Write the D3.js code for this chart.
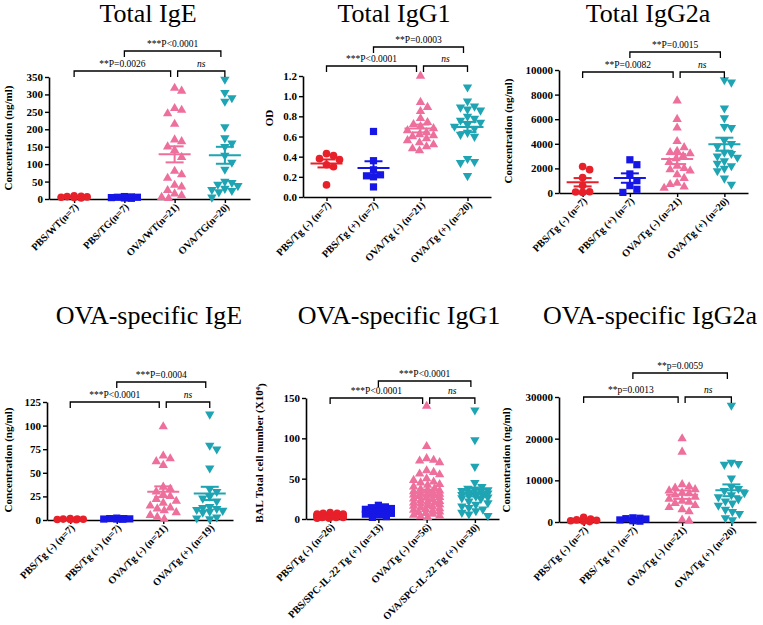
<!DOCTYPE html>
<html><head><meta charset="utf-8">
<script src="https://cdn.jsdelivr.net/npm/d3@7"></script>
<style>
body{margin:0;background:#fff}
svg{display:block}
svg text{font-family:"Liberation Serif","Times New Roman",Times,serif}
</style>
</head><body>
<svg id="chart" width="763" height="625"></svg>
<script>
// ---------- shared ----------
const groupColors = ["#e8202a", "#1616e6", "#ee6f9c", "#1ea4b2"];
const groupShapes = ["circle", "square", "triUp", "triDown"];
const SERIF = "'Liberation Serif','Times New Roman',Times,serif";

// ---------- Panel 1: Total IgE ----------
const totalIgE_categories = ["PBS/WT(n=7)", "PBS/TG(n=7)", "OVA/WT(n=21)", "OVA/TG(n=20)"];
const totalIgE_pbsWT = [9, 6, 4, 7, 3, 8, 5];
const totalIgE_pbsTG = [6, 3, 4, 7, 2, 5, 5];
const totalIgE_ovaWT = [318, 310, 260, 255, 245, 215, 170, 165, 150, 140, 120, 80, 70, 60, 40, 35, 25, 15, 10, 5, 2];
const totalIgE_ovaTG = [343, 305, 290, 280, 207, 175, 160, 150, 125, 105, 85, 50, 47, 42, 38, 30, 27, 24, 20, 5];
const totalIgE_ticks = [0, 50, 100, 150, 200, 250, 300, 350];
const totalIgE_comparisons = [[0, 2, "**P=0.0026"], [2, 3, "ns"], [1, 3, "***P<0.0001"]];

// ---------- Panel 2: Total IgG1 ----------
const totalIgG1_categories = ["PBS/Tg (-) (n=7)", "PBS/Tg (+) (n=7)", "OVA/Tg (-) (n=21)", "OVA/Tg (+) (n=20)"];
const totalIgG1_pbsNeg = [0.43, 0.41, 0.38, 0.37, 0.32, 0.30, 0.12];
const totalIgG1_pbsPos = [0.65, 0.36, 0.27, 0.22, 0.21, 0.20, 0.10];
const totalIgG1_ovaNeg = [1.2, 0.94, 0.89, 0.85, 0.78, 0.74, 0.72, 0.70, 0.68, 0.66, 0.64, 0.62, 0.61, 0.60, 0.58, 0.56, 0.54, 0.52, 0.50, 0.48, 0.46];
const totalIgG1_ovaPos = [1.09, 0.95, 0.90, 0.89, 0.87, 0.86, 0.80, 0.78, 0.76, 0.74, 0.72, 0.70, 0.68, 0.64, 0.62, 0.60, 0.38, 0.35, 0.34, 0.21];
const totalIgG1_ticks = [0, 0.2, 0.4, 0.6, 0.8, 1.0, 1.2];
const totalIgG1_comparisons = [[0, 2, "***P<0.0001"], [2, 3, "ns"], [1, 3, "**P=0.0003"]];

// ---------- Panel 3: Total IgG2a ----------
const totalIgG2a_categories = ["PBS/Tg (-) (n=7)", "PBS/Tg (+) (n=7)", "OVA/Tg (-) (n=21)", "OVA/Tg (+) (n=20)"];
const totalIgG2a_pbsNeg = [2150, 1900, 1250, 600, 100, 50, 80];
const totalIgG2a_pbsPos = [2700, 2300, 1550, 1000, 600, 300, 50];
const totalIgG2a_ovaNeg = [7500, 6000, 5300, 4200, 3700, 3400, 3300, 3200, 3000, 2800, 2500, 2200, 2000, 1900, 1800, 1500, 1200, 800, 700, 500, 400];
const totalIgG2a_ovaPos = [9200, 9000, 6900, 6100, 5400, 5300, 4300, 4000, 3800, 3300, 3200, 3000, 2900, 2600, 2400, 2200, 2000, 1800, 1200, 700];
const totalIgG2a_ticks = [0, 2000, 4000, 6000, 8000, 10000];
const totalIgG2a_comparisons = [[0, 2, "**P=0.0082"], [2, 3, "ns"], [1, 3, "**P=0.0015"]];

// ---------- Panel 4: OVA-specific IgE ----------
const ovaIgE_categories = ["PBS/Tg (-) (n=7)", "PBS/Tg (+) (n=7)", "OVA/Tg (-) (n=21)", "OVA/Tg (+) (n=19)"];
const ovaIgE_pbsNeg = [1.5, 1.0, 0.5, 0.8, 0.3, 0.5, 1.0];
const ovaIgE_pbsPos = [2.0, 1.5, 1.2, 1.0, 0.8, 1.5, 1.0];
const ovaIgE_ovaNeg = [99, 68, 65, 62, 58, 35, 33, 30, 27, 25, 22, 20, 18, 15, 13, 12, 10, 8, 5, 3, 1];
const ovaIgE_ovaPos = [112, 79, 75, 55, 33, 30, 25, 23, 20, 14, 13, 12, 11, 10, 9, 8, 3, 2, 1];
const ovaIgE_ticks = [0, 25, 50, 75, 100, 125];
const ovaIgE_comparisons = [[0, 2, "***P<0.0001"], [2, 3, "ns"], [1, 3, "***P=0.0004"]];

// ---------- Panel 5: OVA-specific IgG1 (BAL cells) ----------
const ovaIgG1_categories = ["PBS/Tg (-) (n=26)", "PBS/SPC-IL-22 Tg (+) (n=13)", "OVA/Tg (-) (n=56)", "OVA/SPC-IL-22 Tg (+) (n=30)"];
const ovaIgG1_pbsNeg = [8, 7, 7, 6, 6, 6, 5, 5, 5, 5, 4, 4, 4, 4, 4, 3, 3, 3, 3, 3, 2, 2, 2, 2, 1, 1];
const ovaIgG1_pbsPos = [17, 15, 14, 13, 12, 10, 9, 8, 7, 6, 5, 3, 2];
const ovaIgG1_ovaNeg = [140, 90, 75, 73, 72, 70, 60, 58, 56, 55, 50, 48, 46, 45, 43, 42, 40, 38, 37, 36, 35, 34, 33, 32, 31, 30, 30, 29, 28, 27, 26, 25, 24, 23, 22, 21, 20, 20, 19, 18, 17, 16, 15, 14, 13, 12, 11, 10, 9, 8, 7, 6, 5, 4, 3, 2];
const ovaIgG1_ovaPos = [135, 98, 65, 45, 40, 38, 37, 36, 35, 34, 33, 32, 31, 30, 30, 29, 28, 27, 26, 25, 22, 20, 18, 16, 14, 12, 10, 8, 6, 4];
const ovaIgG1_ticks = [0, 50, 100, 150];
const ovaIgG1_comparisons = [[0, 2, "***P<0.0001"], [2, 3, "ns"], [1, 3, "***P<0.0001"]];

// ---------- Panel 6: OVA-specific IgG2a ----------
const ovaIgG2a_categories = ["PBS/Tg (-) (n=7)", "PBS/ Tg (+) (n=7)", "OVA/Tg (-) (n=21)", "OVA/Tg (+) (n=20)"];
const ovaIgG2a_pbsNeg = [1100, 700, 500, 300, 200, 100, 400];
const ovaIgG2a_pbsPos = [1000, 900, 800, 700, 500, 300, 200];
const ovaIgG2a_ovaNeg = [20000, 16800, 9000, 8500, 8200, 7800, 7500, 7000, 6800, 6500, 6000, 5500, 5000, 4800, 4500, 4000, 3500, 3000, 2500, 500, 300];
const ovaIgG2a_ovaPos = [28000, 14300, 14000, 13800, 10500, 8500, 8000, 7500, 7000, 6500, 6000, 5500, 5000, 4500, 4000, 3000, 2500, 2000, 1000, 500];
const ovaIgG2a_ticks = [0, 10000, 20000, 30000];
const ovaIgG2a_comparisons = [[0, 2, "**p=0.0013"], [2, 3, "ns"], [1, 3, "**p=0.0059"]];

// ---------- layout ----------
const panels = [
  {title: "Total IgE", tx: 148, ty: 22, x0: 49, x1: 250, yTop: 77, yBot: 199,
   cats: totalIgE_categories, groups: [totalIgE_pbsWT, totalIgE_pbsTG, totalIgE_ovaWT, totalIgE_ovaTG],
   ticks: totalIgE_ticks, fmt: d3.format("d"), ylab: ["Concentration (ng/ml)"], lx: 8, ly: 138,
   by: [71, 51], comps: totalIgE_comparisons},
  {title: "Total IgG1", tx: 394, ty: 22, x0: 303, x1: 491, yTop: 76, yBot: 197,
   cats: totalIgG1_categories, groups: [totalIgG1_pbsNeg, totalIgG1_pbsPos, totalIgG1_ovaNeg, totalIgG1_ovaPos],
   ticks: totalIgG1_ticks, fmt: d3.format(".1f"), ylab: ["OD"], lx: 269, ly: 118,
   by: [66, 47], comps: totalIgG1_comparisons},
  {title: "Total IgG2a", tx: 648, ty: 22, x0: 559, x1: 748, yTop: 70, yBot: 193,
   cats: totalIgG2a_categories, groups: [totalIgG2a_pbsNeg, totalIgG2a_pbsPos, totalIgG2a_ovaNeg, totalIgG2a_ovaPos],
   ticks: totalIgG2a_ticks, fmt: d3.format("d"), ylab: ["Concentration (ng/ml)"], lx: 508, ly: 131,
   by: [72, 52], comps: totalIgG2a_comparisons},
  {title: "OVA-specific IgE", tx: 149, ty: 324, x0: 47, x1: 233, yTop: 402, yBot: 520,
   cats: ovaIgE_categories, groups: [ovaIgE_pbsNeg, ovaIgE_pbsPos, ovaIgE_ovaNeg, ovaIgE_ovaPos],
   ticks: ovaIgE_ticks, fmt: d3.format("d"), ylab: ["Concentration (ng/ml)"], lx: 8, ly: 460,
   by: [402, 382], comps: ovaIgE_comparisons},
  {title: "OVA-specific IgG1", tx: 399, ty: 324, x0: 306, x1: 499, yTop: 398, yBot: 519,
   cats: ovaIgG1_categories, groups: [ovaIgG1_pbsNeg, ovaIgG1_pbsPos, ovaIgG1_ovaNeg, ovaIgG1_ovaPos],
   ticks: ovaIgG1_ticks, fmt: d3.format("d"), ylab: ["BAL Total cell number (X10", "4", ")"], lx: 259, ly: 453,
   by: [398, 381], comps: ovaIgG1_comparisons},
  {title: "OVA-specific IgG2a", tx: 650, ty: 324, x0: 559, x1: 756, yTop: 397, yBot: 522,
   cats: ovaIgG2a_categories, groups: [ovaIgG2a_pbsNeg, ovaIgG2a_pbsPos, ovaIgG2a_ovaNeg, ovaIgG2a_ovaPos],
   ticks: ovaIgG2a_ticks, fmt: d3.format("d"), ylab: ["Concentration (ng/ml)"], lx: 506, ly: 460,
   by: [397, 373], comps: ovaIgG2a_comparisons}
];

const svg = d3.select("#chart");

const symGen = {
  circle: d3.symbol().type(d3.symbolCircle).size(46)(),
  square: d3.symbol().type(d3.symbolSquare).size(52)(),
  triUp: d3.symbol().type(d3.symbolTriangle).size(38)(),
  triDown: d3.symbol().type(d3.symbolTriangle).size(38)()
};

// simple clamped beeswarm: returns x-offsets for pixel y positions
function swarm(ys, W, H, cap) {
  const order = ys.map((y, i) => i).sort((a, b) => ys[a] - ys[b]);
  const placed = [];
  const offs = new Array(ys.length).fill(0);
  const cands = [];
  for (let o = 0; o <= cap; o += 1) { cands.push(o); if (o) cands.push(-o); }
  order.forEach(i => {
    let best = 0, bestP = Infinity;
    for (const c of cands) {
      let p = 0;
      for (const q of placed) {
        const dx = Math.abs(q.x - c), dy = Math.abs(q.y - ys[i]);
        if (dx < W && dy < H) p += (W - dx) * (H - dy);
      }
      if (p < bestP - 1e-9) { bestP = p; best = c; }
      if (p === 0) break;
    }
    offs[i] = best;
    placed.push({x: best, y: ys[i]});
  });
  return offs;
}

panels.forEach(P => {
  const g = svg.append("g");
  const x = d3.scalePoint().domain(P.cats).range([P.x0, P.x1]).padding(0.5);
  const y = d3.scaleLinear().domain([0, d3.max(P.ticks)]).range([P.yBot, P.yTop]);

  // title
  g.append("text").attr("x", P.tx).attr("y", P.ty).attr("text-anchor", "middle")
    .style("font-family", SERIF).style("font-size", "26px").text(P.title);

  // y axis
  const ya = g.append("g").attr("transform", `translate(${P.x0},0)`)
    .call(d3.axisLeft(y).tickValues(P.ticks).tickFormat(P.fmt).tickSize(4).tickSizeOuter(0).tickPadding(2));
  ya.attr("font-family", null);
  ya.select(".domain").attr("stroke", "#000").attr("stroke-width", 1.6);
  ya.selectAll(".tick line").attr("stroke", "#000").attr("stroke-width", 1.4);
  ya.selectAll(".tick text").style("font-family", SERIF).style("font-weight", "bold")
    .style("font-size", "11px").attr("fill", "#000");

  // x axis
  const xa = g.append("g").attr("transform", `translate(0,${P.yBot})`)
    .call(d3.axisBottom(x).tickSize(4).tickSizeOuter(0));
  xa.attr("font-family", null);
  xa.select(".domain").attr("stroke", "#000").attr("stroke-width", 1.6);
  xa.selectAll(".tick line").attr("stroke", "#000").attr("stroke-width", 1.4);
  xa.selectAll(".tick text").style("font-family", SERIF).style("font-weight", "bold")
    .style("font-size", "10.2px").attr("fill", "#000")
    .attr("x", 0).attr("y", 0).attr("dy", "0.35em")
    .attr("text-anchor", "end").attr("transform", "translate(2,6) rotate(-45)");

  // y label
  const yl = g.append("text").attr("transform", `translate(${P.lx},${P.ly}) rotate(-90)`)
    .attr("text-anchor", "middle").attr("dy", "0.35em")
    .style("font-family", SERIF).style("font-weight", "bold").style("font-size", "11px");
  yl.append("tspan").text(P.ylab[0]);
  if (P.ylab.length > 1) {
    yl.append("tspan").attr("dy", "-0.45em").style("font-size", "7px").text(P.ylab[1]);
    yl.append("tspan").attr("dy", "0.45em").text(P.ylab[2]);
  }

  // points
  P.groups.forEach((vals, gi) => {
    const cx = x(P.cats[gi]);
    const ys = vals.map(v => y(v));
    const offs = swarm(ys, 7, 7, 13);
    g.append("g").selectAll("path").data(vals).join("path")
      .attr("d", symGen[groupShapes[gi]])
      .attr("transform", (v, i) => `translate(${cx + offs[i]},${ys[i]})` + (groupShapes[gi] === "triDown" ? " rotate(180)" : ""))
      .attr("fill", groupColors[gi]);

    // mean +- SEM
    const m = d3.mean(vals);
    const sem = d3.deviation(vals) / Math.sqrt(vals.length);
    const col = groupColors[gi];
    const eb = g.append("g").attr("stroke", col).attr("stroke-width", 2).attr("fill", "none");
    eb.append("line").attr("x1", cx - 16).attr("x2", cx + 16).attr("y1", y(m)).attr("y2", y(m));
    eb.append("line").attr("x1", cx).attr("x2", cx).attr("y1", y(m - sem)).attr("y2", y(m + sem));
    eb.append("line").attr("x1", cx - 9).attr("x2", cx + 9).attr("y1", y(m + sem)).attr("y2", y(m + sem));
    eb.append("line").attr("x1", cx - 9).attr("x2", cx + 9).attr("y1", y(m - sem)).attr("y2", y(m - sem));
  });

  // significance brackets
  P.comps.forEach((c, ci) => {
    const level = ci < 2 ? 0 : 1;
    const by = P.by[level];
    let xa1 = x(P.cats[c[0]]), xa2 = x(P.cats[c[1]]);
    if (ci === 0) xa2 -= 4;
    if (ci === 1) xa1 += 3;
    if (ci === 2) xa2 -= 4;
    g.append("path").attr("d", `M${xa1},${by + 6}V${by}H${xa2}V${by + 6}`)
      .attr("fill", "none").attr("stroke", "#000").attr("stroke-width", 1.3);
    g.append("text").attr("x", (xa1 + xa2) / 2).attr("y", by - 4).attr("text-anchor", "middle")
      .style("font-family", SERIF)
      .style("font-size", "9.5px").style("font-style", c[2] === "ns" ? "italic" : "normal").text(c[2]);
  });
});
</script>
</body></html>
